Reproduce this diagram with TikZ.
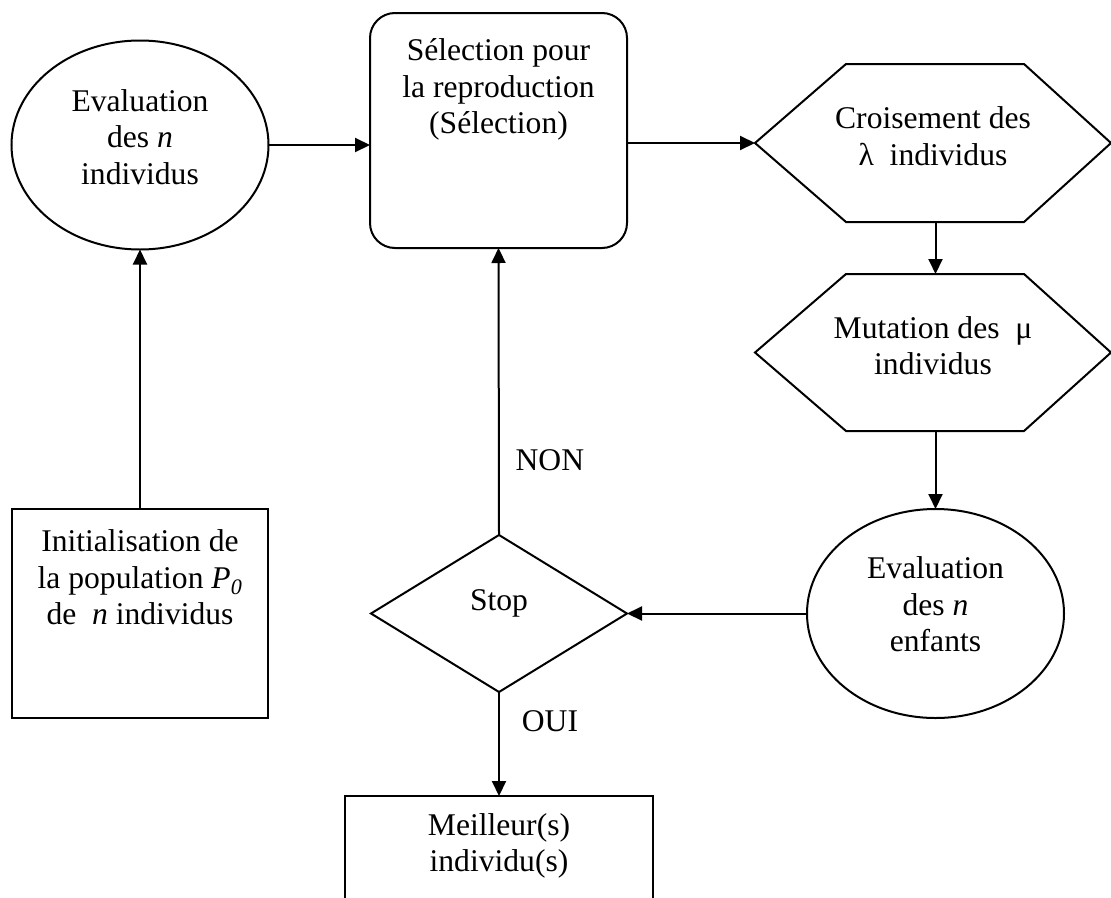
\documentclass[tikz,border=0pt]{standalone}
\usepackage{fontspec}
\setmainfont{Liberation Serif}
\usetikzlibrary{shapes.geometric,arrows.meta}

\begin{document}
\begin{tikzpicture}[x=1pt,y=-1pt,
  every node/.style={inner sep=0pt, outer sep=0pt},
  shapeline/.style={draw=black, line width=2pt},
  txt/.style={align=center, font=\fontsize{31.6}{36.5}\selectfont},
  arrow/.style={line width=2pt, -{Triangle[length=15pt,width=14pt]}},
  ovalnode/.style={shapeline, ellipse, minimum width=257pt, minimum height=209pt},
  rectnode/.style={shapeline, rectangle},
  hexframe/.style={rectangle, minimum width=356pt, minimum height=158pt}
]
\clip (0,0) rectangle (1111,897);
\fill[white] (0,0) rectangle (1111,897);

% evaluation of the initial population
\node[ovalnode, label={[txt,yshift=8pt]center:Evaluation\\des \textit{n}\\individus}]
  (eval1) at (140,145) {};

% selection for reproduction
\node[shapeline, rectangle, rounded corners=25pt, minimum width=257pt, minimum height=235pt,
  label={[txt,yshift=41pt]center:Sélection pour\\la reproduction\\(Sélection)}]
  (sel) at (498.5,130.5) {};

% crossover hexagon
\node[hexframe, label={[txt,yshift=7pt]center:Croisement des\\λ\ \ individus}]
  (cross) at (933,143) {};
\draw[shapeline, line join=miter] (cross.west) -- ([xshift=91pt]cross.north west)
  -- ([xshift=-87pt]cross.north east) -- (cross.east)
  -- ([xshift=-87pt]cross.south east) -- ([xshift=91pt]cross.south west) -- cycle;

% mutation hexagon
\node[hexframe, minimum height=157pt, label={[txt,yshift=7pt]center:Mutation des\ \ μ\\individus}]
  (mut) at (933,352.5) {};
\draw[shapeline, line join=miter] (mut.west) -- ([xshift=91pt]mut.north west)
  -- ([xshift=-87pt]mut.north east) -- (mut.east)
  -- ([xshift=-87pt]mut.south east) -- ([xshift=91pt]mut.south west) -- cycle;

% evaluation of the offspring
\node[ovalnode, label={[txt,yshift=9pt]center:Evaluation\\des \textit{n}\\enfants}]
  (eval2) at (935.5,613.5) {};

% initialisation
\node[rectnode, minimum width=256pt, minimum height=209pt,
  label={[txt,yshift=36pt]center:Initialisation de\\la population \textit{P\textsubscript{0}}\\de\ \ \textit{n} individus}]
  (init) at (140,613.5) {};

% stopping test
\node[shapeline, diamond, minimum width=256pt, minimum height=157pt,
  label={[txt,yshift=10pt]center:Stop}]
  (stop) at (499,613.5) {};

% best individuals
\node[rectnode, minimum width=308pt, minimum height=160pt,
  label={[txt,yshift=30pt]center:Meilleur(s)\\individu(s)}]
  (best) at (499,876) {};

% connectors
\draw[arrow] (init.north) -- (eval1.south);
\draw[arrow] (eval1.east) -- (eval1.east -| sel.west);
\draw[arrow] (sel.east |- cross.west) -- (cross.west);
\draw[arrow] (cross.south -| 935.5,0) -- (mut.north -| 935.5,0);
\draw[arrow] (mut.south -| 935.5,0) -- (eval2.north);
\draw[arrow] (eval2.west) -- (stop.east);
\draw[arrow] (stop.north) -- node[txt, pos=0.26, xshift=51pt] {NON} (sel.south);
\draw[arrow] (stop.south) -- node[txt, pos=0.28, xshift=51pt] {OUI} (best.north);
\end{tikzpicture}
\end{document}
